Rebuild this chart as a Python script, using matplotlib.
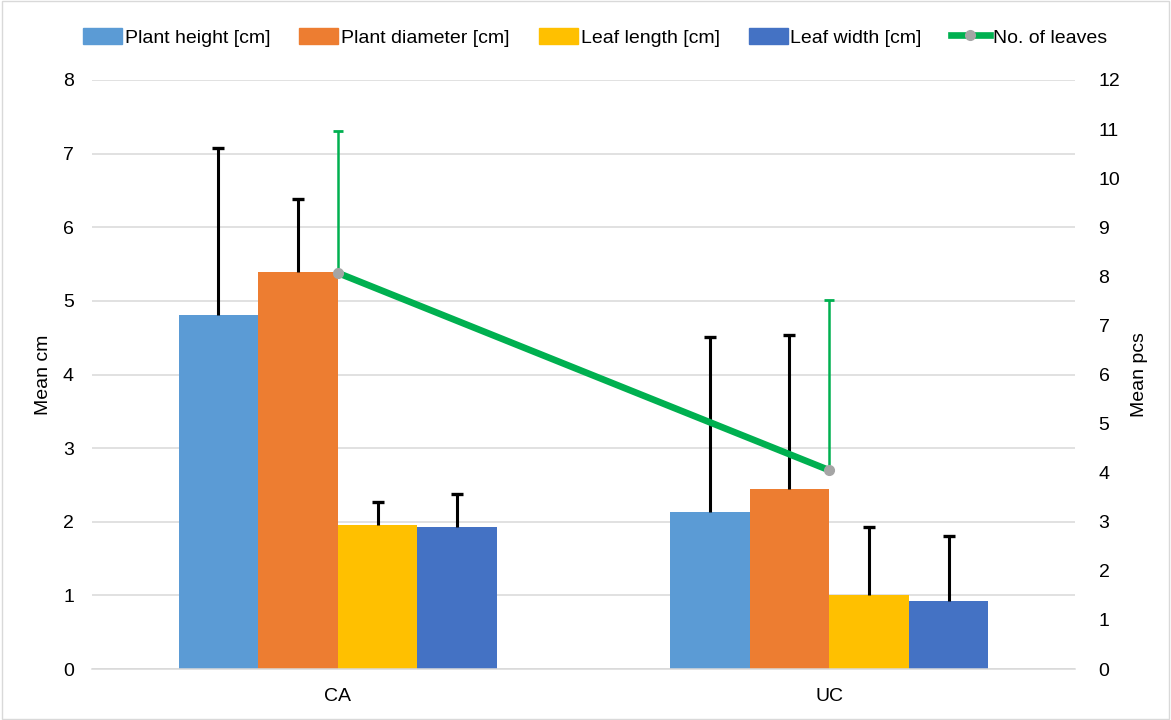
import matplotlib
matplotlib.use("Agg")
import matplotlib.pyplot as plt
import numpy as np
from matplotlib.lines import Line2D
from matplotlib.patches import Patch

plt.rcParams["font.family"] = ["Liberation Sans", "DejaVu Sans"]

groups = ["CA", "UC"]
series = ["Plant height [cm]", "Plant diameter [cm]", "Leaf length [cm]", "Leaf width [cm]"]
colors = ["#5B9BD5", "#ED7D31", "#FFC000", "#4472C4"]
means = [[4.81, 2.13], [5.39, 2.45], [1.96, 1.01], [1.93, 0.92]]
errs = [[2.27, 2.38], [1.00, 2.09], [0.31, 0.92], [0.45, 0.89]]
leaves = [8.07, 4.05]
leaves_err = [2.89, 3.47]

fig = plt.figure(figsize=(11.71, 7.2), dpi=100)
ax = fig.add_axes([0.0786, 0.0708, 0.8394, 0.8181])
x = np.arange(len(groups))
w = 0.162
for i, (s, c) in enumerate(zip(series, colors)):
    pos = x + (i - 1.5) * w
    m = np.array(means[i]); e = np.array(errs[i])
    ax.bar(pos, m, w, color=c, label=s, zorder=2)
    # upper-only error bars with a cap on top only
    ax.vlines(pos, m, m + e, color="black", lw=2.2, zorder=3)
    ax.plot(pos, m + e, ls="none", marker="_", ms=9, mew=2.4, color="black", zorder=3)
ax.set_xlim(-0.5, 1.5)
ax.set_ylim(0, 8)
ax.set_yticks(range(0, 9))
ax.set_xticks(x)
ax.set_xticklabels(groups)
ax.grid(axis="y", color="#D9D9D9", lw=1.1, zorder=0)
ax.set_axisbelow(True)
for sp in ["top", "right", "left"]:
    ax.spines[sp].set_visible(False)
ax.spines["bottom"].set_color("#D9D9D9")
ax.spines["bottom"].set_linewidth(1.1)
ax.tick_params(length=0, labelsize=14, pad=14)
ax.tick_params(axis="y", pad=13)
ax.set_ylabel("Mean cm", fontsize=14, labelpad=8)

ax2 = ax.twinx()
ax2.set_ylim(0, 12)
ax2.set_yticks(range(0, 13))
lv = np.array(leaves); le = np.array(leaves_err)
ax2.vlines(x, lv, lv + le, color="#00B050", lw=1.8, zorder=3)
ax2.plot(x, lv + le, ls="none", marker="_", ms=7, mew=2.0, color="#00B050", zorder=3)
ax2.plot(x, lv, color="#00B050", lw=4.8, marker="o", ms=7,
         mfc="#A5A5A5", mec="#A5A5A5", zorder=4)
for sp in ax2.spines.values():
    sp.set_visible(False)
ax2.tick_params(length=0, labelsize=14, pad=17)
ax2.set_ylabel("Mean pcs", fontsize=14, labelpad=8)

handles = [Patch(color=c, label=s) for s, c in zip(series, colors)]
handles.append(Line2D([], [], color="#00B050", lw=4.8, marker="o", ms=7,
                      mfc="#A5A5A5", mec="#A5A5A5", label="No. of leaves"))
fig.legend(handles=handles, loc="center", bbox_to_anchor=(0.508, 0.948), ncol=5,
           frameon=False, fontsize=14, handlelength=2.0, handleheight=0.9,
           handletextpad=0.15, columnspacing=1.5)

fig.patches.append(plt.Rectangle((0.002, 0.002), 0.996, 0.996, transform=fig.transFigure,
                                 fill=False, edgecolor="#D9D9D9", lw=1))
fig.savefig("out.png", dpi=100)
